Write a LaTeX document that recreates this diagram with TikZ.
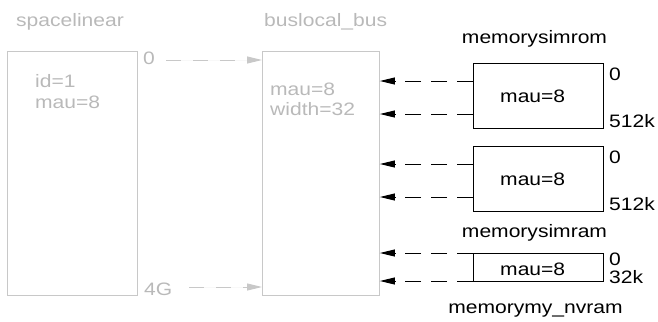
\documentclass[tikz,border=0pt]{standalone}
\usepackage{fontspec}
\setmainfont{Liberation Sans}[FakeStretch=1.17]
\usetikzlibrary{arrows.meta}
\definecolor{gline}{RGB}{200,200,200}
\definecolor{gtext}{RGB}{185,185,185}
\begin{document}
\begin{tikzpicture}[x=1bp,y=-1bp,
  box/.style={draw,rectangle,inner sep=0,anchor=north west,line width=0.9bp},
  gbox/.style={box,draw=gline},
  txt/.style={anchor=base west,inner sep=0,font=\fontsize{18bp}{22bp}\selectfont},
  gtxt/.style={txt,text=gtext},
  ctxt/.style={txt,anchor=base},
  barr/.style={-{Triangle[length=15bp,width=7bp]},dash pattern=on 16bp off 10bp,line width=0.9bp},
  garr/.style={barr,draw=gline,fill=gline,dash pattern=on 15bp off 12bp}]
\useasboundingbox (0,0) rectangle (658,321);
% grey part
\node[gbox,minimum width=130bp,minimum height=244bp] (space) at (7,51) {};
\node[gbox,minimum width=117bp,minimum height=244bp] (bus) at (262,51) {};
\node[gtxt] (tspace) at (16,26) {spacelinear};
\node[gtxt] (tbus) at (264,26) {buslocal\_bus};
\node[gtxt] (sid) at (35,87) {id=1};
\node[gtxt] (smau) at (35,108) {mau=8};
\node[gtxt] (bmau) at (270,95) {mau=8};
\node[gtxt] (bwid) at (270,115) {width=32};
\node[gtxt] (z0) at (143,64) {0};
\node[gtxt] (z4g) at (144,295) {4G};
\draw[garr] (z0.east |- 0,60) ++(11,0) coordinate (g0s) (g0s) -- (bus.west |- 0,60);
\draw[garr] (z4g.east |- 0,287) ++(17,0) coordinate (g4s) (g4s) -- (bus.west |- 0,287);
% memories
\node[box,minimum width=130bp,minimum height=65bp] (rom) at (473,63) {};
\node[box,minimum width=130bp,minimum height=65bp] (ram) at (473,146) {};
\node[box,minimum width=130bp,minimum height=28bp] (nv) at (473,253) {};
\node[ctxt] (trom) at (534.5,43) {memorysimrom};
\node[ctxt] (tram) at (534.5,237) {memorysimram};
\node[ctxt] (tnv) at (535.5,313) {memorymy\_nvram};
\node[txt] (rommau) at (500,102) {mau=8};
\node[txt] (rammau) at (500,185) {mau=8};
\node[txt] (nvmau) at (500,275) {mau=8};
\node[txt] (rom0) at (609,80) {0};
\node[txt] (rom512) at (609,127) {512k};
\node[txt] (ram0) at (609,163) {0};
\node[txt] (ram512) at (609,210) {512k};
\node[txt] (nv0) at (609,265) {0};
\node[txt] (nv32) at (609,283) {32k};
\draw[barr] (rom.west |- 0,81) -- (bus.east |- 0,81);
\draw[barr] (rom.west |- 0,114) -- (bus.east |- 0,114);
\draw[barr] (ram.west |- 0,164) -- (bus.east |- 0,164);
\draw[barr] (ram.west |- 0,197) -- (bus.east |- 0,197);
\draw[barr] (nv.west |- 0,253) -- (bus.east |- 0,253);
\draw[barr] (nv.west |- 0,281) -- (bus.east |- 0,281);
\end{tikzpicture}
\end{document}
